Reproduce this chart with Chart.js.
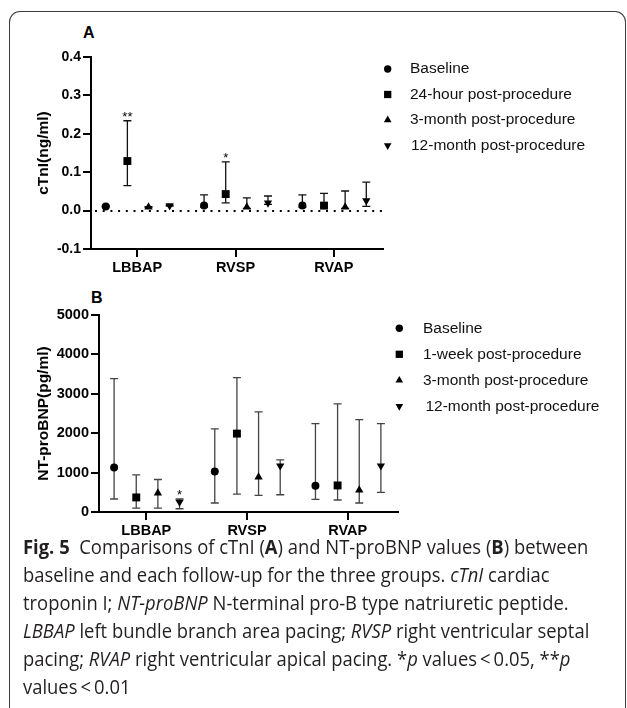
<!DOCTYPE html>
<html>
<head>
<meta charset="utf-8">
<script src="https://cdn.jsdelivr.net/npm/chart.js@4.4.1/dist/chart.umd.min.js"></script>
<style>
  body { margin: 0; width: 627px; height: 708px; background: #fff; position: relative; overflow: hidden; }
  .frame { position: absolute; left: 9px; top: 11px; width: 615px; height: 720px; border: 1.3px solid #3c3c3c; border-bottom: none; border-radius: 11px 11px 0 0; }
  canvas { position: absolute; left: 0; }
  #chartA { top: 0; }
  #chartB { top: 280px; }
  .panel { position: absolute; font: bold 16px 'Liberation Sans', Arial, sans-serif; color: #000; }
  #cap { position: absolute; left: 23px; top: 533px; font-family: 'Open Sans', sans-serif; font-size: 20px; line-height: 28px; color: #231f20; white-space: nowrap; transform: scaleX(0.92); transform-origin: 0 0; }
</style>
</head>
<body>
<div class="frame"></div>
<div class="panel" style="left:83px; top:24px;">A</div>
<div class="panel" style="left:91px; top:289px;">B</div>
<canvas id="chartA" width="627" height="285"></canvas>
<canvas id="chartB" width="627" height="265"></canvas>
<div id="cap">
<b>Fig. 5</b>&nbsp; Comparisons of cTnI (<b>A</b>) and NT-proBNP values (<b>B</b>) between<br>
baseline and each follow-up for the three groups. <i>cTnI</i> cardiac<br>
troponin I; <i>NT-proBNP</i> N-terminal pro-B type natriuretic peptide.<br>
<i>LBBAP</i> left bundle branch area pacing; <i>RVSP</i> right ventricular septal<br>
pacing; <i>RVAP</i> right ventricular apical pacing. *<i>p</i> values&thinsp;&lt;&thinsp;0.05, **<i>p</i><br>
values&thinsp;&lt;&thinsp;0.01
</div>
<script>
const groups = ['LBBAP', 'RVSP', 'RVAP']

// panel A - cTnI (ng/ml)
const ctniLabels = ['Baseline', '24-hour post-procedure', '3-month post-procedure', '12-month post-procedure']
const ctniMean = [
    [0.011, 0.013, 0.013],
    [0.129, 0.043, 0.013],
    [0.009, 0.009, 0.009],
    [0.013, 0.020, 0.026]
]
const ctniLow = [
    [0.010, 0.009, 0.009],
    [0.065, 0.020, 0.009],
    [0.008, 0.006, 0.006],
    [0.012, 0.016, 0.011]
]
const ctniHigh = [
    [0.012, 0.041, 0.041],
    [0.234, 0.127, 0.045],
    [0.010, 0.033, 0.051],
    [0.014, 0.038, 0.074]
]
const ctniTicks = [-0.1, 0, 0.1, 0.2, 0.3, 0.4]
const ctniStars = [['**', 1, 0], ['*', 1, 1]]

// panel B - NT-proBNP (pg/ml)
const bnpLabels = ['Baseline', '1-week post-procedure', '3-month post-procedure', '12-month post-procedure']
const bnpMean = [
    [1130, 1028, 666],
    [370, 1990, 674],
    [480, 886, 557],
    [253, 1172, 1172]
]
const bnpLow = [
    [330, 228, 319],
    [100, 456, 304],
    [100, 420, 228],
    [83, 438, 496]
]
const bnpHigh = [
    [3383, 2109, 2243],
    [944, 3408, 2742],
    [825, 2539, 2344],
    [330, 1324, 2243]
]
const bnpTicks = [0, 1000, 2000, 3000, 4000, 5000]
const bnpStars = [['*', 3, 0]]

const offsets = [-0.32, -0.1, 0.115, 0.33]
const markers = [
    { pointStyle: 'circle', rotation: 0, radius: 4 },
    { pointStyle: 'rect', rotation: 0, radius: 5.6 },
    { pointStyle: 'triangle', rotation: 0, radius: 4.8 },
    { pointStyle: 'triangle', rotation: 180, radius: 4.8 }
]

Chart.defaults.font.family = "'Liberation Sans', Arial, sans-serif"
Chart.defaults.color = '#000'

function makeDatasets(labels, mean, low, high) {
    return labels.map((label, s) => ({
        label: label,
        data: groups.map((g, i) => ({ x: i + offsets[s], y: mean[s][i], low: low[s][i], high: high[s][i] })),
        pointStyle: markers[s].pointStyle,
        rotation: markers[s].rotation,
        pointRadius: markers[s].radius,
        pointHoverRadius: markers[s].radius,
        backgroundColor: '#000',
        borderColor: '#000',
        borderWidth: 0
    }))
}

const errorBars = {
    id: 'errorBars',
    beforeDatasetsDraw(chart, args, opts) {
        const ctx = chart.ctx
        const xs = chart.scales.x
        const ys = chart.scales.y
        ctx.save()
        if (opts.zeroLine) {
            const y0 = Math.round(ys.getPixelForValue(0))
            ctx.strokeStyle = '#000'
            ctx.lineWidth = 2
            ctx.setLineDash([2, 5.7])
            ctx.beginPath()
            ctx.moveTo(chart.chartArea.left + 4, y0)
            ctx.lineTo(chart.chartArea.right, y0)
            ctx.stroke()
            ctx.setLineDash([])
        }
        ctx.strokeStyle = opts.color
        ctx.lineWidth = opts.width
        chart.data.datasets.forEach(ds => {
            ds.data.forEach(p => {
                const px = xs.getPixelForValue(p.x)
                const lo = ys.getPixelForValue(p.low)
                const hi = ys.getPixelForValue(p.high)
                ctx.beginPath()
                ctx.moveTo(px, lo); ctx.lineTo(px, hi)
                ctx.moveTo(px - 4, lo); ctx.lineTo(px + 4, lo)
                ctx.moveTo(px - 4, hi); ctx.lineTo(px + 4, hi)
                ctx.stroke()
            })
        })
        ctx.restore()
    },
    afterDatasetsDraw(chart, args, opts) {
        const ctx = chart.ctx
        const xs = chart.scales.x
        const ys = chart.scales.y
        const area = chart.chartArea
        ctx.save()
        ctx.fillStyle = '#000'
        ctx.font = "13px 'Liberation Sans', Arial, sans-serif"
        ctx.textAlign = 'center'
        ctx.textBaseline = 'alphabetic'
        opts.stars.forEach(st => {
            const p = chart.data.datasets[st[1]].data[st[2]]
            ctx.fillText(st[0], xs.getPixelForValue(p.x), ys.getPixelForValue(p.high) + 0.5)
        })
        // legend
        const lg = opts.legend
        ctx.font = "15.5px 'Liberation Sans', Arial, sans-serif"
        ctx.textAlign = 'left'
        ctx.textBaseline = 'middle'
        chart.data.datasets.forEach((ds, s) => {
            const ly = area.top + lg.top + s * lg.gap
            const lx = area.right + lg.mark
            ctx.fillStyle = '#000'
            Chart.helpers.drawPoint(ctx, { pointStyle: markers[s].pointStyle, rotation: markers[s].rotation, radius: markers[s].radius * 0.92, borderWidth: 0 }, lx, ly)
            ctx.fillStyle = '#111'
            ctx.fillText(ds.label, area.right + lg.text + (s === 3 ? lg.last : 0), ly)
        })
        ctx.restore()
    }
}

function makeChart(id, labels, mean, low, high, opt) {
    return new Chart(document.getElementById(id), {
        type: 'scatter',
        data: { datasets: makeDatasets(labels, mean, low, high) },
        plugins: [errorBars],
        options: {
            responsive: false,
            animation: false,
            layout: { autoPadding: false, padding: opt.padding },
            plugins: {
                legend: { display: false },
                tooltip: { enabled: false },
                errorBars: { zeroLine: opt.zeroLine, color: opt.barColor, width: opt.barWidth, stars: opt.stars, legend: opt.legend }
            },
            scales: {
                x: {
                    type: 'linear',
                    min: -0.47,
                    max: 2.5,
                    afterBuildTicks: s => { s.ticks = groups.map((g, i) => ({ value: i })) },
                    afterFit: s => { s.height = 30 },
                    ticks: { callback: v => groups[v], font: { size: 14.5, weight: 'bold' }, color: '#000', padding: 2, autoSkip: false, maxRotation: 0 },
                    grid: { drawOnChartArea: false, color: '#000', lineWidth: 2, tickLength: 8 },
                    border: { color: '#000', width: 2 }
                },
                y: {
                    min: opt.ticks[0],
                    max: opt.ticks[opt.ticks.length - 1],
                    afterBuildTicks: s => { s.ticks = opt.ticks.map(v => ({ value: v })) },
                    afterFit: s => { s.width = opt.axisWidth },
                    ticks: { callback: opt.format, font: { size: opt.tickSize, weight: 'bold' }, color: '#000', padding: 2 },
                    grid: { drawOnChartArea: false, color: '#000', lineWidth: 2, tickLength: 8 },
                    border: { color: '#000', width: 2 },
                    title: { display: true, text: opt.title, font: { size: 15.5, weight: 'bold' }, color: '#000', padding: { top: 34, bottom: 0 } }
                }
            }
        }
    })
}

const chartA = makeChart('chartA', ctniLabels, ctniMean, ctniLow, ctniHigh, {
    padding: { top: 57, left: 0, right: 244, bottom: 6 },
    axisWidth: 91,
    ticks: ctniTicks,
    format: v => v.toFixed(1),
    tickSize: 14,
    title: 'cTnI(ng/ml)',
    zeroLine: true,
    barColor: '#111',
    barWidth: 1.3,
    stars: ctniStars,
    legend: { mark: 4.7, text: 27, top: 12, gap: 25.5, last: 1 }
})

const chartB = makeChart('chartB', bnpLabels, bnpMean, bnpLow, bnpHigh, {
    padding: { top: 35, left: 0, right: 229, bottom: 3 },
    axisWidth: 99,
    ticks: bnpTicks,
    format: v => String(v),
    tickSize: 14.5,
    title: 'NT-proBNP(pg/ml)',
    zeroLine: false,
    barColor: '#444',
    barWidth: 1.3,
    stars: bnpStars,
    legend: { mark: 1.3, text: 25, top: 13.3, gap: 26, last: 2.4 }
})
</script>
</body>
</html>
